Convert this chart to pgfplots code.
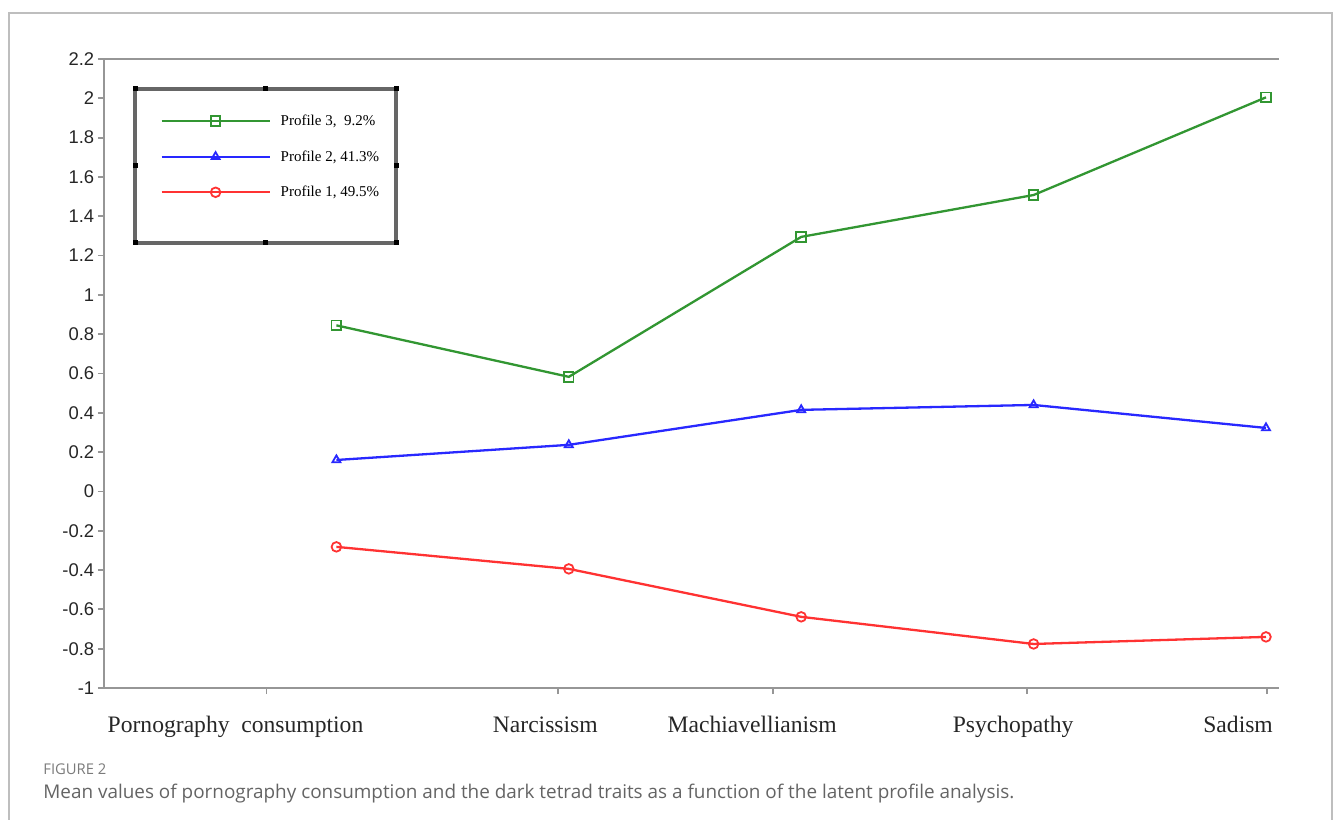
\documentclass[border=0pt]{standalone}
\usepackage{fontspec}
\setmainfont{Liberation Serif}
\newfontfamily\arialf{Liberation Sans}
\newfontfamily\capf{Open Sans}
\usepackage{pgfplots}
\pgfplotsset{compat=1.18}
\definecolor{pgreen}{RGB}{50,150,50}
\definecolor{pblue}{RGB}{40,40,255}
\definecolor{pred}{RGB}{255,50,50}
\definecolor{axgray}{RGB}{150,150,150}
\definecolor{framegray}{RGB}{190,190,190}
\definecolor{capgray}{RGB}{100,100,100}
\begin{document}
\begin{tikzpicture}
\begin{scope}[x=0.5pt,y=-0.5pt,shift={(-52pt,344pt)}]
\useasboundingbox (0,0) rectangle (1335,820);
\draw[framegray, line width=0.8pt] (9,822) -- (9,13) -- (1332,13) -- (1332,822);
\end{scope}
\begin{axis}[
  scale only axis, width=587.5pt, height=314.5pt,
  xmin=0, xmax=5.056, ymin=-1, ymax=2.2,
  axis y line*=left,
  axis line style={axgray, line width=1.2pt},
  xtick pos=bottom,
  tick align=outside,
  major tick length=3pt,
  tick style={axgray, line width=0.9pt},
  xtick={0.699,1.955,2.880,3.972,5.004},
  xticklabels={},
  extra x ticks={0.566,1.899,2.789,3.912,4.880},
  extra x tick labels={Pornography~~consumption,Narcissism,Machiavellianism,Psychopathy,Sadism},
  extra x tick style={major tick length=0pt, xticklabel style={anchor=base, yshift=-22pt, font=\fontsize{11.8}{14}\selectfont, text=black!85}},
  ytick={-1,-0.8,-0.6,-0.4,-0.2,0,0.2,0.4,0.6,0.8,1,1.2,1.4,1.6,1.8,2,2.2},
  yticklabels={-1,-0.8,-0.6,-0.4,-0.2,0,0.2,0.4,0.6,0.8,1,1.2,1.4,1.6,1.8,2,2.2},
  yticklabel style={font=\arialf\fontsize{9.2}{10}\selectfont, text=black!85, xshift=1.6pt},
  legend image code/.code={\draw[mark repeat=2,mark phase=2,#1] plot coordinates {(0pt,0pt)(27pt,0pt)(54pt,0pt)};},
  legend style={at={(0.0477,0.914)}, anchor=north west, draw=none, fill=none, inner sep=0pt,
    font=\fontsize{7.5}{9}\selectfont, row sep=10.2pt,
    nodes={inner sep=0pt, text height=6pt, text depth=1.6pt},
    /tikz/every odd column/.style={column sep=5pt}},
  legend cell align=left,
]
\addplot[pgreen, line width=1.15pt, mark=square, mark size=2.4pt, mark options={solid, line width=0.9pt}]
  coordinates {(1,0.845)(2,0.583)(3,1.295)(4,1.508)(5,2.005)};
\addlegendentry{Profile 3,\ \ 9.2\%}
\addplot[pblue, line width=1.15pt, mark=triangle, mark size=2.3pt, mark options={solid, line width=0.9pt}]
  coordinates {(1,0.160)(2,0.237)(3,0.415)(4,0.440)(5,0.323)};
\addlegendentry{Profile 2, 41.3\%}
\addplot[pred, line width=1.15pt, mark=o, mark size=2.4pt, mark options={solid, line width=0.9pt}]
  coordinates {(1,-0.282)(2,-0.394)(3,-0.638)(4,-0.776)(5,-0.740)};
\addlegendentry{Profile 1, 49.5\%}
\end{axis}
\begin{scope}[x=0.5pt,y=-0.5pt,shift={(-52pt,344pt)}]
\draw[black!60, line width=1.6pt] (135,89) rectangle (396,243);
\foreach \hx/\hy in {135/89,265/89,396/89,135/166,396/166,135/243,265/243,396/243}
  \fill[black] (\hx-2.5,\hy-2.5) rectangle (\hx+2.5,\hy+2.5);
\node[anchor=base west, inner sep=0pt, text=capgray!85, font=\capf\fontsize{7.4}{9}\selectfont] at (43,774) {FIGURE 2};
\node[anchor=base west, inner sep=0pt, text=capgray, font=\capf\fontsize{9.45}{11}\selectfont] at (43,798) {Mean values of pornography consumption and the dark tetrad traits as a function of the latent profile analysis.};
\end{scope}
\end{tikzpicture}
\end{document}
